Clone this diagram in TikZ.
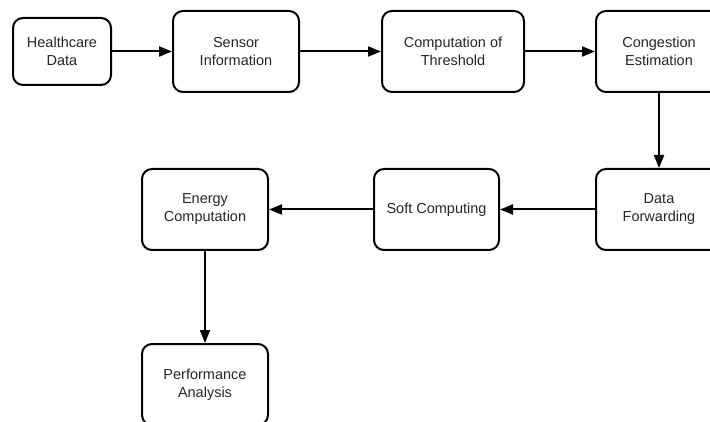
\documentclass[tikz,border=0pt]{standalone}
\usepackage{fontspec}
\setmainfont{Liberation Sans}
\usetikzlibrary{arrows.meta,positioning}

\begin{document}
\begin{tikzpicture}[x=1pt, y=-1pt,
  blk/.style={draw, line width=2pt, rounded corners=10pt, inner sep=0pt,
    minimum width=126pt, minimum height=81pt, align=center, text=black!85,
    font=\fontsize{14.5}{18}\selectfont},
  flow/.style={line width=2pt, -{Triangle[length=13pt,width=10pt]}}]
\useasboundingbox (0,0) rectangle (710,422);
\clip (0,0) rectangle (710,422);

\node [blk, minimum width=98pt, minimum height=67pt] (hd) at (62,51.5) {Healthcare\\Data};
\node [blk] (si) at (236,51.5) {Sensor\\Information};
\node [blk, minimum width=142pt] (ct) at (453,51.5) {Computation of\\Threshold};
\node [blk] (ce) at (659,51.5) {Congestion\\Estimation};
\node [blk] (df) at (659,209.5) {Data\\Forwarding};
\node [blk, minimum width=125pt] (sc) at (436.5,209.5) {Soft Computing};
\node [blk] (ec) at (205,209.5) {Energy\\Computation};
\node [blk] (pa) at (205,384.5) {Performance\\Analysis};

\draw [flow] (hd) -- (si);
\draw [flow] (si) -- (ct);
\draw [flow] (ct) -- (ce);
\draw [flow] (ce) -- (df);
\draw [flow] (df) -- (sc);
\draw [flow] (sc) -- (ec);
\draw [flow] (ec) -- (pa);
\end{tikzpicture}
\end{document}
